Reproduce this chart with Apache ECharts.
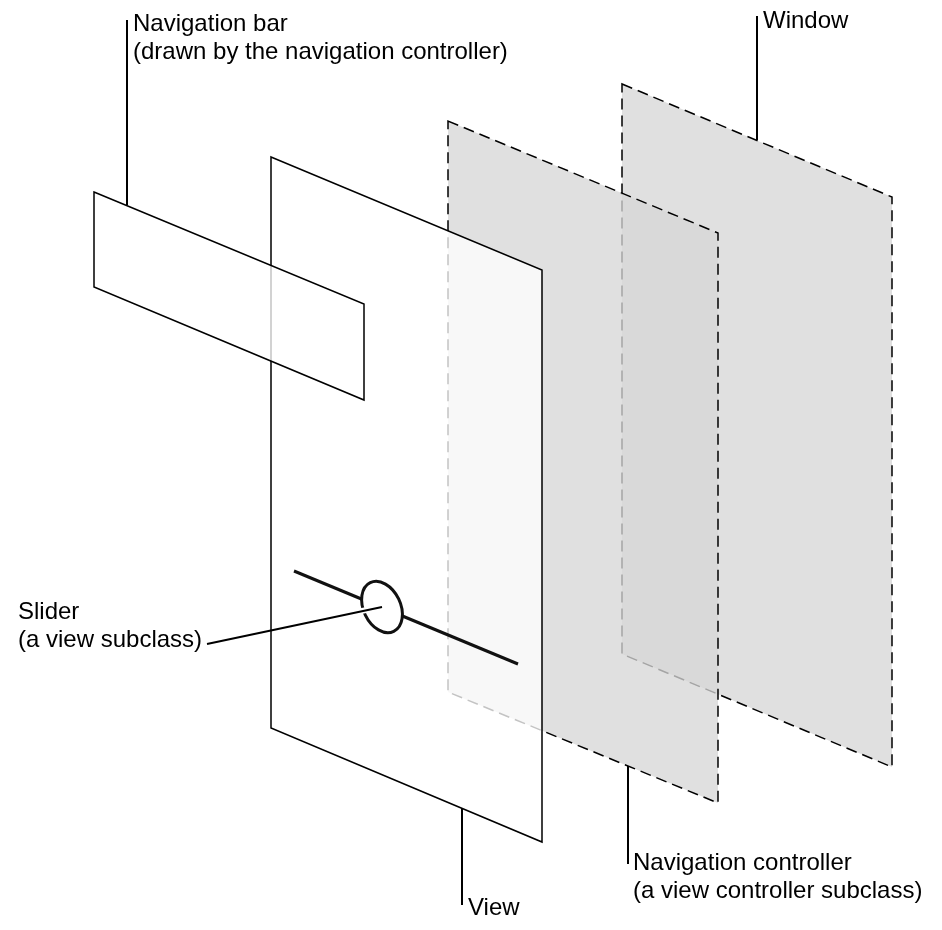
<!DOCTYPE html>
<html>
<head>
<meta charset="utf-8">
<script src="https://cdn.jsdelivr.net/npm/echarts@6/dist/echarts.min.js"></script>
<style>
html, body { margin: 0; padding: 0; background: #fff; }
#main { width: 942px; height: 930px; }
</style>
</head>
<body>
<div id="main"></div>
<script>
// layer outlines, back to front (picture pixels)
var windowPane = [[622, 84], [892, 197], [892, 767], [622, 654]];
var controllerPane = [[448, 121], [718, 233], [718, 803], [448, 692]];
var viewPane = [[271, 157], [542, 270], [542, 842], [271, 728]];
var navBarPane = [[94, 192], [364, 304], [364, 400], [94, 287]];

var sliderTrack = [[294, 571], [518, 664]];
var sliderKnob = [382, 607];

var leaderLines = [
    [[127, 20], [127, 205]],
    [[757, 16], [757, 140]],
    [[207, 644], [382, 607]],
    [[462, 808], [462, 905]],
    [[628, 766], [628, 864]]
];
var knobGap = [[355, 612.4], [374, 608.4]];

var labelTexts = [
    ['Navigation bar', '(drawn by the navigation controller)'],
    ['Window'],
    ['Slider', '(a view subclass)'],
    ['View'],
    ['Navigation controller', '(a view controller subclass)']
];
var labelAnchors = [[133, 36], [763, 33], [18, 624], [468, 920], [633, 875]];

var panes = [windowPane, controllerPane, viewPane, navBarPane];
var paneStyles = [
    { fill: '#e0e0e0', stroke: '#000', lineWidth: 1.5, lineDash: [11, 6] },
    { fill: 'rgba(215,215,215,0.77)', stroke: '#000', lineWidth: 1.5, lineDash: [11, 6] },
    { fill: 'rgba(255,255,255,0.77)', stroke: '#000', lineWidth: 1.5 },
    { fill: 'rgba(255,255,255,0.77)', stroke: '#000', lineWidth: 1.5 }
];

var textRows = [];
labelTexts.forEach(function (lines, i) {
    lines.forEach(function (t, j) {
        textRows.push({ text: t, x: labelAnchors[i][0], y: labelAnchors[i][1] + j * 28 });
    });
});

var myChart = echarts.init(document.getElementById('main'));

var option = {
    animation: false,
    grid: { left: 0, right: 0, top: 0, bottom: 0 },
    xAxis: { type: 'value', min: 0, max: 942, show: false },
    yAxis: { type: 'value', min: 0, max: 930, inverse: true, show: false },
    series: [
        {
            name: 'panes',
            type: 'custom',
            silent: true,
            data: panes.map(function (p, i) { return [i, 0]; }),
            renderItem: function (params, api) {
                var pts = panes[params.dataIndex].map(function (p) { return api.coord(p); });
                var s = paneStyles[params.dataIndex];
                return {
                    type: 'polygon',
                    shape: { points: pts },
                    style: { fill: s.fill, stroke: s.stroke, lineWidth: s.lineWidth, lineDash: s.lineDash || null }
                };
            }
        },
        {
            name: 'slider',
            type: 'custom',
            silent: true,
            data: [[0, 0]],
            renderItem: function (params, api) {
                var a = api.coord(sliderTrack[0]);
                var b = api.coord(sliderTrack[1]);
                var c = api.coord(sliderKnob);
                return {
                    type: 'group',
                    children: [
                        {
                            type: 'line',
                            shape: { x1: a[0], y1: a[1], x2: b[0], y2: b[1] },
                            style: { stroke: '#111', lineWidth: 3 }
                        },
                        {
                            type: 'ellipse',
                            x: c[0],
                            y: c[1],
                            rotation: 0.45,
                            shape: { cx: 0, cy: 0, rx: 18.5, ry: 27 },
                            style: { fill: '#fff', stroke: '#111', lineWidth: 3 }
                        }
                    ]
                };
            }
        },
        {
            name: 'gap',
            type: 'line',
            silent: true,
            symbol: 'none',
            data: knobGap,
            lineStyle: { color: '#fff', width: 6 }
        }
    ].concat(leaderLines.map(function (seg, i) {
        return {
            name: 'leader' + i,
            type: 'line',
            silent: true,
            symbol: 'none',
            data: seg,
            lineStyle: { color: '#000', width: 2 }
        };
    })).concat([
        {
            name: 'labels',
            type: 'custom',
            silent: true,
            data: textRows.map(function (r, i) { return [i, 0]; }),
            renderItem: function (params, api) {
                var r = textRows[params.dataIndex];
                var p = api.coord([r.x, r.y]);
                return {
                    type: 'text',
                    x: p[0],
                    y: p[1],
                    style: {
                        text: r.text,
                        fill: '#000',
                        font: '24px "Liberation Sans", Arial, sans-serif',
                        textAlign: 'left',
                        textVerticalAlign: 'bottom'
                    }
                };
            }
        }
    ])
};

myChart.setOption(option);
</script>
</body>
</html>
